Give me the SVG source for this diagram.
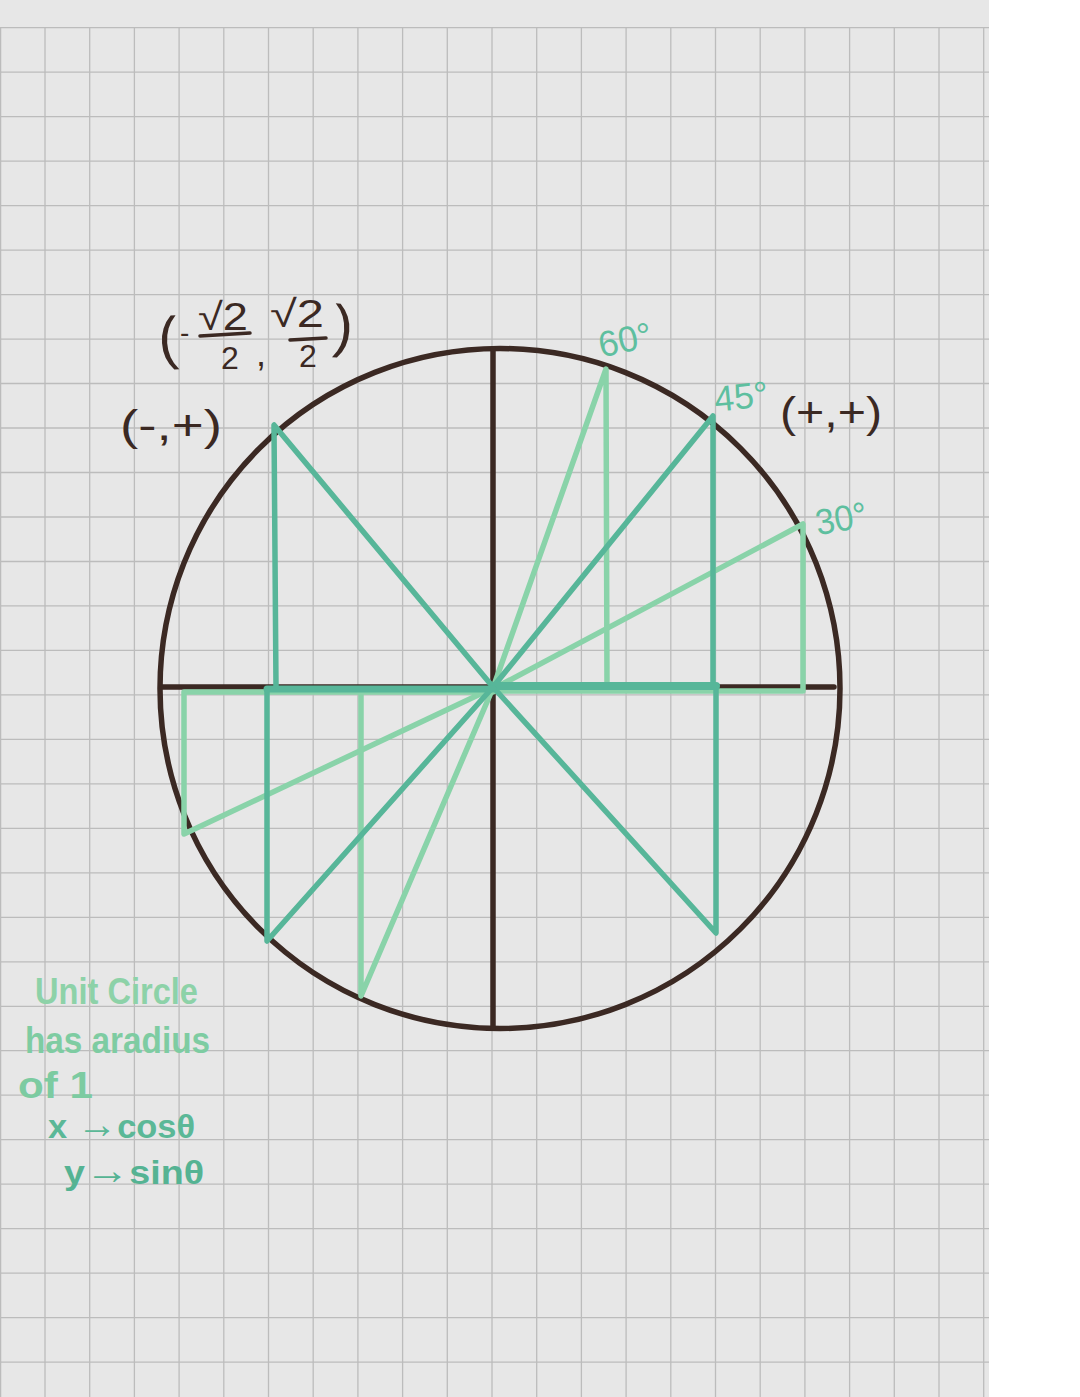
<svg xmlns="http://www.w3.org/2000/svg" width="1080" height="1397" viewBox="0 0 1080 1397">
<defs>
<style>
.grid line{stroke:#bcbcbc;stroke-width:1.3}
.brown{stroke:#3b2923;stroke-width:5.5;fill:none;stroke-linecap:round}
.dk{stroke:#57b699;stroke-width:5.5;fill:none;stroke-linecap:round;stroke-linejoin:round}
.lt{stroke:#89d3a9;stroke-width:5.5;fill:none;stroke-linecap:round;stroke-linejoin:round}
.lbl{font-family:"Liberation Sans",Arial,sans-serif;fill:#3b2923}
.deg{font-family:"Liberation Sans",Arial,sans-serif;fill:#5ebf9f}
.note{font-family:"Liberation Sans",Arial,sans-serif;font-weight:bold}
.bar{stroke:#3b2923;stroke-width:3.5;stroke-linecap:round}
</style>
</defs>
<rect x="0" y="0" width="1080" height="1397" fill="#ffffff"/>
<rect x="0" y="0" width="989" height="1397" fill="#e7e7e7"/>
<g id="grid" class="grid">
<line x1="0" y1="27.7" x2="989" y2="27.7"/>
<line x1="0" y1="72.2" x2="989" y2="72.2"/>
<line x1="0" y1="116.7" x2="989" y2="116.7"/>
<line x1="0" y1="161.1" x2="989" y2="161.1"/>
<line x1="0" y1="205.6" x2="989" y2="205.6"/>
<line x1="0" y1="250.1" x2="989" y2="250.1"/>
<line x1="0" y1="294.6" x2="989" y2="294.6"/>
<line x1="0" y1="339.1" x2="989" y2="339.1"/>
<line x1="0" y1="383.5" x2="989" y2="383.5"/>
<line x1="0" y1="428" x2="989" y2="428"/>
<line x1="0" y1="472.5" x2="989" y2="472.5"/>
<line x1="0" y1="517" x2="989" y2="517"/>
<line x1="0" y1="561.5" x2="989" y2="561.5"/>
<line x1="0" y1="605.9" x2="989" y2="605.9"/>
<line x1="0" y1="650.4" x2="989" y2="650.4"/>
<line x1="0" y1="694.9" x2="989" y2="694.9"/>
<line x1="0" y1="739.4" x2="989" y2="739.4"/>
<line x1="0" y1="783.9" x2="989" y2="783.9"/>
<line x1="0" y1="828.3" x2="989" y2="828.3"/>
<line x1="0" y1="872.8" x2="989" y2="872.8"/>
<line x1="0" y1="917.3" x2="989" y2="917.3"/>
<line x1="0" y1="961.8" x2="989" y2="961.8"/>
<line x1="0" y1="1006.3" x2="989" y2="1006.3"/>
<line x1="0" y1="1050.7" x2="989" y2="1050.7"/>
<line x1="0" y1="1095.2" x2="989" y2="1095.2"/>
<line x1="0" y1="1139.7" x2="989" y2="1139.7"/>
<line x1="0" y1="1184.2" x2="989" y2="1184.2"/>
<line x1="0" y1="1228.7" x2="989" y2="1228.7"/>
<line x1="0" y1="1273.1" x2="989" y2="1273.1"/>
<line x1="0" y1="1317.6" x2="989" y2="1317.6"/>
<line x1="0" y1="1362.1" x2="989" y2="1362.1"/>
<line x1="0.6" y1="27.7" x2="0.6" y2="1397"/>
<line x1="45" y1="27.7" x2="45" y2="1397"/>
<line x1="89.7" y1="27.7" x2="89.7" y2="1397"/>
<line x1="134.4" y1="27.7" x2="134.4" y2="1397"/>
<line x1="179.1" y1="27.7" x2="179.1" y2="1397"/>
<line x1="223.8" y1="27.7" x2="223.8" y2="1397"/>
<line x1="268.5" y1="27.7" x2="268.5" y2="1397"/>
<line x1="313.2" y1="27.7" x2="313.2" y2="1397"/>
<line x1="357.9" y1="27.7" x2="357.9" y2="1397"/>
<line x1="402.6" y1="27.7" x2="402.6" y2="1397"/>
<line x1="447.3" y1="27.7" x2="447.3" y2="1397"/>
<line x1="492" y1="27.7" x2="492" y2="1397"/>
<line x1="536.7" y1="27.7" x2="536.7" y2="1397"/>
<line x1="581.4" y1="27.7" x2="581.4" y2="1397"/>
<line x1="626.1" y1="27.7" x2="626.1" y2="1397"/>
<line x1="670.8" y1="27.7" x2="670.8" y2="1397"/>
<line x1="715.5" y1="27.7" x2="715.5" y2="1397"/>
<line x1="760.2" y1="27.7" x2="760.2" y2="1397"/>
<line x1="804.9" y1="27.7" x2="804.9" y2="1397"/>
<line x1="849.6" y1="27.7" x2="849.6" y2="1397"/>
<line x1="894.3" y1="27.7" x2="894.3" y2="1397"/>
<line x1="939" y1="27.7" x2="939" y2="1397"/>
<line x1="983.7" y1="27.7" x2="983.7" y2="1397"/>
</g>
<g id="circle">
<circle class="brown" cx="500" cy="688.5" r="340"/>
</g>
<g id="axes">
<line class="brown" x1="493" y1="349" x2="493" y2="1028"/>
<line class="brown" x1="162" y1="687" x2="834" y2="687"/>
</g>
<g id="connectors">
<g id="tri60" class="lt">
<polyline points="493,688 606,369 607,688"/>
<polyline points="493,688 361,996 361,692"/>
</g>
<g id="tri30" class="lt">
<polyline points="493,689 803,524 803,691 493,691"/>
<polyline points="493,688 184,834 184,692 493,692"/>
</g>
<g id="tri45" class="dk">
<polyline points="493,687 713,416 713,687"/>
<polyline points="493,687 716,933 716,687"/>
<polyline points="493,687 274,425 276,687"/>
<polyline points="493,687 267,941 267,689"/>
<line x1="493" y1="686" x2="716" y2="686" stroke-width="8"/>
<line x1="267" y1="689" x2="493" y2="689" stroke-width="7"/>
</g>
</g>
<g id="label-sqrt2">
<text class="lbl" x="158" y="358" font-size="58" transform="rotate(-4 165 335)">(</text>
<text class="lbl" x="180" y="342" font-size="28">-</text>
<text class="lbl" x="198" y="330" font-size="38" textLength="50" lengthAdjust="spacingAndGlyphs">√2</text>
<line class="bar" x1="200" y1="336" x2="250" y2="333"/>
<text class="lbl" x="221" y="369" font-size="32">2</text>
<text class="lbl" x="256" y="366" font-size="36">,</text>
<text class="lbl" x="270" y="327" font-size="38" textLength="54" lengthAdjust="spacingAndGlyphs">√2</text>
<line class="bar" x1="290" y1="340" x2="326" y2="338"/>
<text class="lbl" x="299" y="367" font-size="32">2</text>
<text class="lbl" x="334" y="346" font-size="58" transform="rotate(4 345 325)">)</text>
</g>
<g id="label-mp">
<text class="lbl" x="120" y="440" font-size="42" textLength="102" lengthAdjust="spacingAndGlyphs">(-,+)</text>
</g>
<g id="label-pp">
<text class="lbl" x="780" y="427" font-size="42" textLength="102" lengthAdjust="spacingAndGlyphs">(+,+)</text>
</g>
<g id="label-60">
<text class="deg" x="597" y="353" font-size="36" textLength="54" lengthAdjust="spacingAndGlyphs" transform="rotate(-12 620 335)">60°</text>
</g>
<g id="label-45">
<text class="deg" x="714" y="409" font-size="36" textLength="54" lengthAdjust="spacingAndGlyphs" transform="rotate(-6 740 395)">45°</text>
</g>
<g id="label-30">
<text class="deg" x="814" y="531" font-size="36" textLength="52" lengthAdjust="spacingAndGlyphs" transform="rotate(-10 840 512)">30°</text>
</g>
<g id="notes" class="note">
<text x="35" y="1004" font-size="36" fill="#8dd2a8" textLength="163" lengthAdjust="spacingAndGlyphs">Unit Circle</text>
<text x="25" y="1053" font-size="36" fill="#7ecca2" textLength="185" lengthAdjust="spacingAndGlyphs">has aradius</text>
<text x="18" y="1098" font-size="36" fill="#7ccba1" textLength="75" lengthAdjust="spacingAndGlyphs">of 1</text>
<text x="48" y="1138" font-size="34" fill="#5bb897" textLength="147" lengthAdjust="spacingAndGlyphs">x <tspan font-size="40">→</tspan>cosθ</text>
<text x="64" y="1184" font-size="34" fill="#55b393" textLength="140" lengthAdjust="spacingAndGlyphs">y<tspan font-size="40">→</tspan>sinθ</text>
</g>
</svg>
